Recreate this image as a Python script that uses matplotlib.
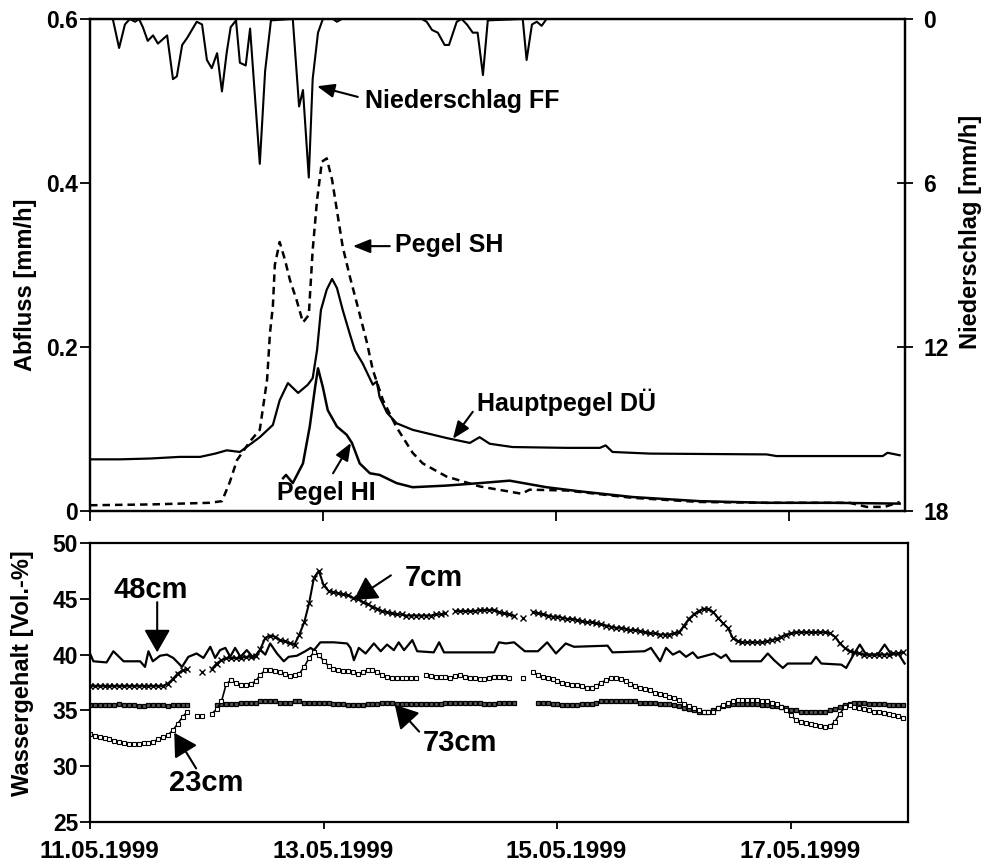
import numpy as np
import matplotlib
matplotlib.use("Agg")
import matplotlib.pyplot as plt
import matplotlib.transforms as mtransforms

plt.rcParams['font.family'] = ['Liberation Sans', 'DejaVu Sans']
plt.rcParams['font.weight'] = 'bold'

nan = float('nan')

# ---------------- data (time in hours since 11.05.1999 00:00) ----------------
date_ticks = [0, 48, 96, 144]
date_labels = ['11.05.1999', '13.05.1999', '15.05.1999', '17.05.1999']

# Niederschlag FF [mm/h]
rain_h = [0, 4.7, 6.0, 7.2, 8.2, 9.3, 10.1, 10.9, 11.9, 13.0, 14.0, 15.9, 17.1, 17.9, 19.0,
          20.0, 22.0, 23.1, 24.1, 25.1, 26.2, 27.2, 28.2, 29.0, 30.1, 30.9, 32.1, 33.0, 35.0,
          36.1, 37.3, 41.8, 43.1, 43.9, 45.1, 45.9, 47.0, 48.0, 50.1, 50.9, 51.9, 68.4, 69.4,
          70.5, 71.7, 73.1, 74.0, 75.6, 76.6, 77.7, 78.9, 79.9, 81.0, 82.0, 89.2, 90.0, 91.1,
          92.1, 93.1, 94.1, 168]
rain_v = [0, 0, 1.06, 0.2, 0, 0.1, 0, 0.3, 0.8, 0.6, 0.9, 0.6, 2.2, 2.1, 0.95,
          0.7, 0.1, 0.2, 1.5, 1.8, 1.25, 2.65, 1.2, 0.3, 0.05, 1.6, 1.7, 0.35, 5.3,
          1.9, 0.05, 0, 3.2, 2.6, 5.8, 2.2, 0.5, 0, 0, 0.1, 0, 0, 0.1,
          0.4, 0.5, 0.95, 0.95, 0.1, 0, 0.2, 0.5, 0.5, 2.05, 0.05, 0, 1.5, 0.2,
          0.1, 0.25, 0, 0]

# Pegel SH [mm/h]
sh_h = [0, 12.4, 24.7, 27.2, 28.8, 30.3, 33.0, 35.0, 36.5, 37.1, 37.7, 38.1, 39.1, 40.2,
        41.2, 42.6, 43.9, 45.1, 45.9, 46.8, 47.8, 48.8, 49.9, 51.1, 52.1, 53.6, 55.2, 57.1,
        58.3, 60.4, 63.2, 66.5, 68.6, 73.5, 80.3, 87.1, 89.0, 90.6, 98.3, 111.9, 125.7,
        139.5, 156.6, 160.1, 163.8, 166.9]
sh_v = [0.007, 0.008, 0.010, 0.012, 0.035, 0.062, 0.085, 0.099, 0.16, 0.217, 0.25, 0.30, 0.328,
        0.306, 0.282, 0.257, 0.23, 0.239, 0.318, 0.379, 0.426, 0.43, 0.404, 0.359, 0.322, 0.285,
        0.249, 0.205, 0.172, 0.135, 0.102, 0.071, 0.058, 0.042, 0.030, 0.023, 0.021, 0.026,
        0.025, 0.016, 0.011, 0.010, 0.010, 0.005, 0.005, 0.011]

# Hauptpegel DÜ [mm/h]
du_h = [0, 6.2, 12.4, 18.5, 22.7, 25.8, 28.2, 30.9, 35.0, 37.7, 39.1, 40.8, 42.9, 44.9, 45.9,
        46.8, 47.6, 48.8, 49.9, 50.9, 52.1, 53.6, 54.6, 56.2, 58.3, 59.1, 59.7, 61.2, 63.2,
        66.5, 73.5, 78.3, 80.3, 82.4, 87.1, 98.3, 105.1, 106.3, 107.7, 115.4, 139.5, 141.5,
        163.4, 164.4, 166.9]
du_v = [0.063, 0.063, 0.064, 0.066, 0.066, 0.070, 0.074, 0.072, 0.090, 0.105, 0.135, 0.156,
        0.144, 0.154, 0.162, 0.196, 0.245, 0.270, 0.283, 0.272, 0.245, 0.215, 0.196, 0.180,
        0.154, 0.158, 0.139, 0.120, 0.107, 0.099, 0.089, 0.083, 0.090, 0.082, 0.078, 0.077,
        0.077, 0.080, 0.072, 0.070, 0.069, 0.067, 0.067, 0.071, 0.068]

# Pegel HI [mm/h]
hi_h = [39.8, 40.4, 41.8, 43.9, 45.3, 46.4, 47.0, 48.0, 49.0, 50.9, 52.9, 54.0, 55.6, 57.7,
        59.7, 63.2, 66.5, 73.5, 80.3, 86.5, 94.1, 100.9, 111.9, 125.7, 139.5, 153.1, 166.9]
hi_v = [0.040, 0.044, 0.034, 0.058, 0.103, 0.151, 0.174, 0.151, 0.123, 0.103, 0.093, 0.083,
        0.058, 0.046, 0.044, 0.034, 0.029, 0.031, 0.034, 0.037, 0.029, 0.024, 0.017, 0.012,
        0.010, 0.010, 0.009]

# Wassergehalt [Vol.-%], hourly values (NaN = missing)
wg7 = [37.2, 37.2, 37.2, 37.2, 37.2, 37.2, 37.2, 37.2, 37.2, 37.2, 37.2, 37.2, 37.2, 37.2, 37.2, 37.2,
       37.4, 37.8, 38.3, 38.6, 38.7, nan, nan, 38.4,
       nan, 38.7, 39.2, 39.5, 39.7, 39.7, 39.7, 39.7, 39.8, 39.8, 39.9, 40.5, 41.5, 41.7, 41.6, 41.3,
       41.2, 41.0, 40.9, 41.8, 42.9, 44.6, 46.9, 47.5,
       46.2, 45.7, 45.6, 45.5, 45.4, 45.3, 45.1, 45.0, 44.7, 44.5, 44.3, 44.1, 43.9, 43.8, 43.7, 43.6,
       43.6, 43.5, 43.5, 43.5, 43.5, 43.5, 43.5, 43.6,
       43.6, 43.7, nan, 43.9, 43.9, 43.9, 43.9, 43.9, 44.0, 44.0, 44.0, 44.0, 43.8, 43.7, 43.6, 43.5,
       nan, 43.3, nan, 43.8, 43.7, 43.6, 43.5, 43.4,
       43.4, 43.3, 43.2, 43.2, 43.1, 43.0, 42.9, 42.9, 42.8, 42.7, 42.6, 42.5, 42.4, 42.4, 42.3, 42.2,
       42.2, 42.1, 42.0, 41.9, 41.9, 41.8, 41.8, 41.8,
       41.9, 42.0, 42.6, 43.2, 43.6, 43.9, 44.1, 44.1, 43.8, 43.3, 42.8, 42.4, 41.5, 41.2, 41.1, 41.1,
       41.1, 41.1, 41.1, 41.2, 41.3, 41.4, 41.6, 41.8,
       41.9, 42.0, 42.0, 42.0, 42.0, 42.0, 42.0, 42.0, 41.9, 41.6, 41.0, 40.6, 40.3, 40.2, 40.1, 40.0,
       40.0, 40.0, 40.0, 40.0, 40.0, 40.1, 40.1, 40.2]

wg23 = [32.9, 32.7, 32.6, 32.5, 32.4, 32.3, 32.2, 32.1, 32.0, 32.0, 32.0, 32.1, 32.1, 32.2, 32.4, 32.6,
        32.8, 33.2, 33.8, 34.4, 34.9, nan, 34.5, 34.5,
        nan, 34.7, 35.1, 35.8, 37.4, 37.7, 37.5, 37.3, 37.3, 37.4, 37.6, 38.2, 38.6, 38.6, 38.5, 38.4,
        38.3, 38.1, 38.2, 38.3, 38.9, 39.7, 40.2, 40.0,
        39.4, 39.0, 38.7, 38.6, 38.5, 38.5, 38.4, 38.3, 38.4, 38.6, 38.6, 38.4, 38.2, 38.0, 37.9, 37.9,
        37.9, 37.9, 37.9, 37.9, nan, 38.2, 38.1, 38.0,
        38.0, 38.0, 37.9, 38.1, 38.2, 38.0, 37.9, 37.9, 37.8, 37.8, 37.9, 38.0, 38.0, 38.0, 37.9, nan,
        nan, 37.9, nan, 38.4, 38.2, 38.0, 37.9, 37.8,
        37.6, 37.5, 37.4, 37.3, 37.3, 37.2, 37.0, 37.0, 37.2, 37.5, 37.7, 37.9, 37.9, 37.8, 37.6, 37.4,
        37.2, 37.0, 36.9, 36.8, 36.6, 36.5, 36.4, 36.2,
        36.1, 35.9, 35.6, 35.4, 35.2, 35.0, 34.9, 34.9, 34.9, 35.2, 35.5, 35.7, 35.8, 35.9, 35.9, 35.9,
        35.9, 35.9, 35.8, 35.8, 35.7, 35.6, 35.3, 35.0,
        34.6, 34.1, 34.0, 33.9, 33.8, 33.7, 33.6, 33.5, 33.6, 34.0, 34.7, 35.3, 35.5, 35.3, 35.2, 35.1,
        35.0, 34.9, 34.9, 34.8, 34.7, 34.6, 34.5, 34.3]

wg73 = [35.5, 35.5, 35.5, 35.5, 35.5, 35.5, 35.6, 35.5, 35.5, 35.5, 35.4, 35.4, 35.5, 35.5, 35.5, 35.5,
        35.4, 35.5, 35.5, 35.5, 35.5, nan, nan, nan,
        nan, nan, 35.5, 35.6, 35.6, 35.6, 35.6, 35.7, 35.7, 35.7, 35.7, 35.8, 35.8, 35.8, 35.8, 35.7,
        35.7, 35.7, 35.8, 35.8, 35.7, 35.7, 35.7, 35.7,
        35.7, 35.7, 35.6, 35.6, 35.6, 35.5, 35.5, 35.5, 35.5, 35.6, 35.6, 35.6, 35.7, 35.7, 35.7, 35.6,
        35.6, 35.6, 35.6, 35.6, 35.6, 35.6, 35.6, 35.6,
        35.6, 35.7, 35.7, 35.7, 35.7, 35.7, 35.7, 35.7, 35.7, 35.6, 35.6, 35.6, 35.7, 35.7, 35.7, 35.7,
        nan, nan, nan, nan, 35.7, 35.7, 35.7, 35.6,
        35.6, 35.5, 35.5, 35.5, 35.5, 35.6, 35.6, 35.6, 35.7, 35.8, 35.8, 35.8, 35.8, 35.8, 35.8, 35.8,
        35.8, 35.7, 35.7, 35.7, 35.7, 35.6, 35.6, 35.6,
        35.5, 35.4, 35.2, 35.1, 35.0, 34.9, 34.9, 34.9, 35.0, 35.2, 35.4, 35.5, 35.6, 35.6, 35.6, 35.6,
        35.6, 35.6, 35.5, 35.5, 35.4, 35.4, 35.3, 35.2,
        35.0, 35.0, 34.9, 34.9, 34.9, 34.9, 34.9, 34.9, 35.0, 35.1, 35.3, 35.5, 35.6, 35.7, 35.7, 35.7,
        35.6, 35.6, 35.6, 35.6, 35.5, 35.5, 35.5, 35.5]

wg48_h = [0, 0.7, 3.4, 4.8, 6.9, 10.3, 11.3, 12, 12.9, 14.4, 15.8, 17.1, 18.9, 20.2, 21.9,
          23.3, 24.7, 25.7, 26.7, 27.8, 28.8, 29.8, 30.9, 32.2, 33.6, 35, 36, 37, 38.4, 39.8,
          40.8, 42.5, 44.2, 45.3, 46, 47.3, 50.1, 52.8, 53.5, 54.2, 55.2, 56.6, 58.3, 59.7, 61,
          62.4, 63.4, 64.5, 66.2, 67.2, 70.6, 71.7, 72.7, 83, 84, 85.4, 87.1, 89.3, 92, 93.9,
          95.7, 97.7, 99.4, 106.3, 107.3, 113.9, 115.2, 117.1, 118.3, 119.7, 121.1, 122.4, 123.8,
          124.8, 128.2, 129.6, 130.6, 131.6, 137.8, 139.2, 140.5, 142.3, 143.3, 148.1, 149.1,
          150.2, 154.3, 155.3, 156.7, 158.1, 159.4, 161.8, 163.2, 164.6, 166, 167.3]
wg48_v = [40.1, 39.4, 39.3, 40.3, 39.4, 39.4, 38.9, 40.3, 39.4, 39.9, 40.0, 39.7, 38.9, 39.8, 40.1,
          39.7, 40.7, 39.7, 40.4, 40.6, 39.8, 40.6, 39.8, 40.4, 39.7, 40.4, 40.0, 41.0, 40.1, 39.4,
          39.8, 39.9, 40.3, 40.6, 40.4, 41.1, 41.1, 41.0, 40.6, 39.5, 40.6, 40.1, 41.0, 40.3, 40.9,
          40.4, 41.1, 40.4, 41.3, 40.3, 40.2, 41.1, 40.2, 40.2, 41.1, 41.0, 41.1, 40.3, 40.3, 41.1,
          40.1, 41.0, 40.7, 40.8, 40.2, 40.3, 40.6, 39.4, 40.6, 40.0, 40.3, 39.8, 40.2,
          39.7, 40.1, 39.7, 40.0, 39.4, 39.4, 40.1, 39.5, 38.8, 39.2, 39.2, 39.8,
          39.2, 39.1, 38.8, 39.9, 40.9, 40.0, 40.0, 40.9, 40.0, 40.1, 39.2]

hours = np.arange(len(wg7))

# ---------------- figure ----------------
W, H = 988, 868
fig = plt.figure(figsize=(W / 100, H / 100), dpi=100)

ax = fig.add_axes([90 / W, 1 - 511 / H, 815 / W, 492 / H])
ax2 = ax.twinx()
axb = fig.add_axes([90 / W, 1 - 822 / H, 818 / W, 279 / H])

TICK_FS = 16.5
LAB_FS = 17

# top panel
ax.plot(du_h, du_v, color='black', lw=1.6)
ax.plot(hi_h, hi_v, color='black', lw=1.8)
ax.plot(sh_h, sh_v, color='black', lw=1.8, linestyle=(0, (3, 2)))
ax2.plot(rain_h, rain_v, color='black', lw=1.5)

ax.set_xlim(0, 168)
ax.set_ylim(0, 0.6)
ax2.set_ylim(18, 0)
ax.set_yticks([0, 0.2, 0.4, 0.6])
ax.set_yticklabels(['0', '0.2', '0.4', '0.6'])
ax.set_xticks(date_ticks)
ax.set_xticklabels([])
ax2.set_yticks([0, 6, 12, 18])
ax2.set_yticklabels(['0', '6', '12', '18'])

ax.tick_params(axis='y', direction='out', length=7, width=1.3, pad=1.5, labelsize=TICK_FS)
ax.tick_params(axis='x', direction='out', length=7, width=1.3)
ax2.tick_params(axis='y', direction='inout', length=12, width=1.3, pad=7, labelsize=TICK_FS)
for a in (ax, ax2):
    for s in a.spines.values():
        s.set_linewidth(1.6)

fig.text(26 / W, 1 - 285 / H, 'Abfluss [mm/h]', rotation=90, ha='center', va='center',
         fontsize=LAB_FS, fontweight='bold')
fig.text(970 / W, 1 - 232 / H, 'Niederschlag [mm/h]', rotation=90, ha='center', va='center',
         fontsize=LAB_FS, fontweight='bold')

ANN_FS = 18
arrow_top = dict(arrowstyle='-|>,head_length=0.75,head_width=0.3', color='black', lw=1.5,
                 shrinkA=0, shrinkB=0, mutation_scale=14)
ax.text(56.7, 0.5, 'Niederschlag FF', fontsize=ANN_FS, fontweight='bold', ha='left', va='center')
ax.annotate('', xy=(46.8, 0.518), xytext=(55.2, 0.505), arrowprops=arrow_top)
ax.text(62.8, 0.324, 'Pegel SH', fontsize=ANN_FS, fontweight='bold', ha='left', va='center')
ax.annotate('', xy=(54.2, 0.323), xytext=(61.8, 0.323), arrowprops=arrow_top)
ax.text(79.7, 0.133, 'Hauptpegel DÜ', fontsize=ANN_FS, fontweight='bold', ha='left', va='center')
ax.annotate('', xy=(74.8, 0.088), xytext=(78.9, 0.121), arrowprops=arrow_top)
ax.text(48.8, 0.022, 'Pegel HI', fontsize=ANN_FS, fontweight='bold', ha='center', va='center')
ax.annotate('', xy=(53.8, 0.083), xytext=(50.1, 0.046), arrowprops=arrow_top)

# bottom panel
axb.plot(wg48_h, wg48_v, color='black', lw=1.6)
axb.plot(hours, wg73, color='black', lw=1.4, marker='s', ms=2.6, mfc='#555555', mec='black', mew=0.9)
axb.plot(hours, wg23, color='black', lw=1.2, marker='s', ms=3.5, mfc='white', mec='black', mew=0.8)
axb.plot(hours, wg7, color='black', lw=1.5, marker='x', ms=5, mew=1.0)

axb.set_xlim(0, 168)
axb.set_ylim(25, 50)
axb.set_yticks([25, 30, 35, 40, 45, 50])
axb.set_xticks(date_ticks)
axb.set_xticklabels(date_labels)
axb.tick_params(axis='y', direction='out', length=7, width=1.3, pad=1.5, labelsize=TICK_FS)
axb.tick_params(axis='x', direction='out', length=5, width=1.3, pad=8, labelsize=17.5)
for s in axb.spines.values():
    s.set_linewidth(1.6)
offset = mtransforms.ScaledTranslation(0.09, 0, fig.dpi_scale_trans)
for lbl in axb.get_xticklabels():
    lbl.set_transform(lbl.get_transform() + offset)

fig.text(23 / W, 1 - 673 / H, 'Wassergehalt [Vol.-%]', rotation=90, ha='center', va='center',
         fontsize=LAB_FS, fontweight='bold')

BFS = 21
arrow_bot = dict(arrowstyle='-|>,head_length=0.7,head_width=0.4', color='black', lw=1.5,
                 shrinkA=0, shrinkB=0, mutation_scale=20)
axb.text(12.4, 45.8, '48cm', fontsize=BFS, fontweight='bold', ha='center', va='center')
axb.annotate('', xy=(13.8, 40.2), xytext=(13.8, 44.7), arrowprops=arrow_bot)
axb.text(70.7, 46.9, '7cm', fontsize=BFS, fontweight='bold', ha='center', va='center')
axb.annotate('', xy=(54.2, 44.9), xytext=(61.8, 47.1), arrowprops=arrow_bot)
axb.text(76.0, 32.1, '73cm', fontsize=BFS, fontweight='bold', ha='center', va='center')
axb.annotate('', xy=(62.6, 35.5), xytext=(67.6, 33.1), arrowprops=arrow_bot)
axb.text(23.9, 28.5, '23cm', fontsize=BFS, fontweight='bold', ha='center', va='center')
axb.annotate('', xy=(17.3, 33.0), xytext=(21.8, 29.8), arrowprops=arrow_bot)

fig.savefig('out.png', dpi=100)
